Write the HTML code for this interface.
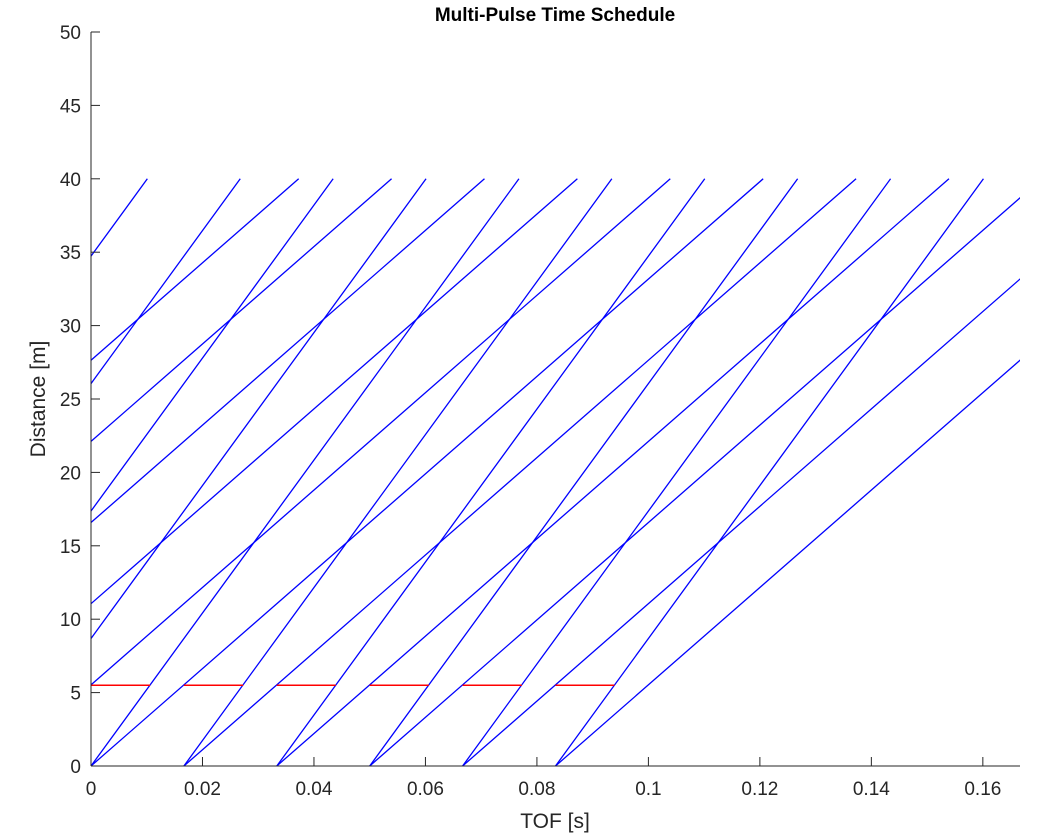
<!DOCTYPE html>
<html><head><meta charset="utf-8"><style>
html,body{margin:0;padding:0;background:#fff;}
svg{display:block;font-family:"Liberation Sans",Arial,sans-serif;}
</style></head><body>
<svg id="chart" width="1043" height="838" viewBox="0 0 1043 838">
<defs><clipPath id="plotclip"><rect x="91" y="32" width="929" height="734"/></clipPath></defs>
<text x="555" y="21" text-anchor="middle" font-size="19" font-weight="bold" fill="#000">Multi-Pulse Time Schedule</text>
<g id="lines" clip-path="url(#plotclip)"></g>
<g id="axes"></g>
<text x="555" y="828" text-anchor="middle" font-size="21" fill="#262626">TOF [s]</text>
<text transform="translate(45,399) rotate(-90)" text-anchor="middle" font-size="21" fill="#262626">Distance [m]</text>
</svg>
<script>
// data
const pulsePeriod = 1/60;
const fastSpeed = 521;   // m/s
const slowSpeed = 331.7; // m/s
const maxDistance = 40;
const fastPulses = [-4,-3,-2,-1,0,1,2,3,4,5];
const slowPulses = [-5,-4,-3,-2,-1,0,1,2,3,4,5];
const chopperDistance = 5.5;
const chopperOpen = [0,0.01667,0.03333,0.05,0.06667,0.08333];
const chopperClose = [0.0106,0.0273,0.0439,0.0606,0.0773,0.0939];
const xTicks = [0,0.02,0.04,0.06,0.08,0.1,0.12,0.14,0.16];
const xTickLabels = ['0','0.02','0.04','0.06','0.08','0.1','0.12','0.14','0.16'];
const yTicks = [0,5,10,15,20,25,30,35,40,45,50];
const yTickLabels = ['0','5','10','15','20','25','30','35','40','45','50'];

const X0=91, X1=1020, Y0=766, Y1=32, XMAX=1/6, YMAX=50;
const sx = v => X0 + v/XMAX*(X1-X0);
const sy = v => Y0 - v/YMAX*(Y0-Y1);
const NS='http://www.w3.org/2000/svg';
const lines=document.getElementById('lines');
const axes=document.getElementById('axes');
function mk(tag,attrs,parent){const e=document.createElementNS(NS,tag);for(const k in attrs)e.setAttribute(k,attrs[k]);parent.appendChild(e);return e;}

slowPulses.forEach(k=>{
  const t0=k*pulsePeriod;
  const l=mk('line',{x1:sx(t0),y1:sy(0),x2:sx(t0+maxDistance/slowSpeed),y2:sy(maxDistance),stroke:'#0000ff','stroke-width':1.3},lines);
  
  
});
fastPulses.forEach(k=>{
  const t0=k*pulsePeriod;
  const l=mk('line',{x1:sx(t0),y1:sy(0),x2:sx(t0+maxDistance/fastSpeed),y2:sy(maxDistance),stroke:'#0000ff','stroke-width':1.3},lines);
  
  
});
chopperOpen.forEach((a,i)=>{
  const l=mk('line',{x1:sx(a),y1:sy(chopperDistance),x2:sx(chopperClose[i]),y2:sy(chopperDistance),stroke:'#ff0000','stroke-width':1.6},lines);
  
  
});

const ax='#262626';
const ya=mk('line',{x1:X0,y1:Y0,x2:X0,y2:Y1,stroke:ax,'stroke-width':1},axes);


const xa=mk('line',{x1:X0,y1:Y0,x2:X1,y2:Y0,stroke:ax,'stroke-width':1},axes);


yTicks.forEach((v,i)=>{
  const t=mk('line',{x1:X0,y1:sy(v),x2:X0+9,y2:sy(v),stroke:ax},axes);
  
  
  const tx=mk('text',{x:81,y:sy(v)+7,'text-anchor':'end','font-size':19,fill:ax},axes);
  tx.textContent=yTickLabels[i];
  
  
});
xTicks.forEach((v,i)=>{
  const t=mk('line',{x1:sx(v),y1:Y0,x2:sx(v),y2:Y0-9,stroke:ax},axes);
  
  
  const tx=mk('text',{x:sx(v),y:795,'text-anchor':'middle','font-size':19,fill:ax},axes);
  tx.textContent=xTickLabels[i];
  
  
});
</script>
</body></html>
